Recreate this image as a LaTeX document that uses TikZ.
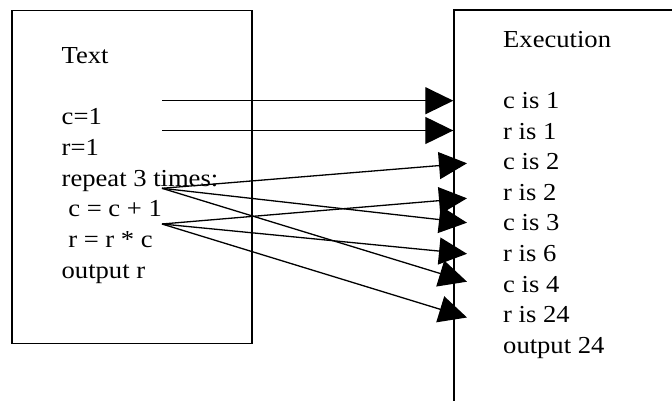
\documentclass[tikz,border=0pt]{standalone}
\usepackage{fontspec}
\setmainfont{Liberation Serif}[FakeStretch=1.09]
\usetikzlibrary{arrows.meta}

\tikzset{
  frame/.style={line width=1.4pt},
  line/.style={text=black, anchor=base west, inner sep=0pt,
    font=\fontsize{24.4}{30.6}\selectfont},
  flow/.style={line width=1.3pt, -{Triangle[length=28pt,width=27pt]}},
}

\begin{document}
\begin{tikzpicture}[x=1pt,y=-1pt]
  \useasboundingbox (0,0) rectangle (672,401);
  \clip (0,0) rectangle (672,401);

  % program box
  \draw[frame] (12,10.7) rectangle (252,343.3);
  % execution box (runs past the page edge)
  \draw[frame] (454,420) -- (454,10) -- (690,10);

  % program text
  \node[line] (title)  at (61.5,63.5)  {Text};
  \node[line] (setc)   at (61.5,125)   {c=1};
  \node[line] (setr)   at (61.5,155.6) {r=1};
  \node[line] (loop)   at (61.5,186.2) {repeat 3 times:};
  \node[line] (incc)   at (61.5,216.8) {\hspace{6.6pt}c = c + 1};
  \node[line] (mulr)   at (61.5,247.4) {\hspace{6.6pt}r = r * c};
  \node[line] (outr)   at (61.5,278)   {output r};

  % execution trace
  \node[line] (exec)   at (503,47.7)  {Execution};
  \node[line] (ca)     at (503,108.5) {c is 1};
  \node[line] (ra)     at (503,139.1) {r is 1};
  \node[line] (cb)     at (503,169.7) {c is 2};
  \node[line] (rb)     at (503,200.3) {r is 2};
  \node[line] (cc)     at (503,230.9) {c is 3};
  \node[line] (rc)     at (503,261.5) {r is 6};
  \node[line] (cd)     at (503,292.1) {c is 4};
  \node[line] (rd)     at (503,322.7) {r is 24};
  \node[line] (out)    at (503,353.3) {output 24};

  % arrow tails
  \coordinate (fromc)    at (162,100.7);
  \coordinate (fromr)    at (162,130.5);
  \coordinate (fromincc) at (162,188.3);
  \coordinate (frommulr) at (162,224);

  % arrow tips
  \coordinate (toca) at (453.3,100.7);
  \coordinate (tora) at (453.3,130.5);
  \coordinate (tocb) at (467,163.3);
  \coordinate (torb) at (467,198.3);
  \coordinate (tocc) at (467,222.7);
  \coordinate (torc) at (467,253.8);
  \coordinate (tocd) at (467,281.7);
  \coordinate (tord) at (467,317.5);

  \draw[flow] (fromc) -- (toca);
  \draw[flow] (fromr) -- (tora);
  \draw[flow] (fromincc) -- (tocb);
  \draw[flow] (fromincc) -- (tocc);
  \draw[flow] (fromincc) -- (tocd);
  \draw[flow] (frommulr) -- (torb);
  \draw[flow] (frommulr) -- (torc);
  \draw[flow] (frommulr) -- (tord);
\end{tikzpicture}
\end{document}
